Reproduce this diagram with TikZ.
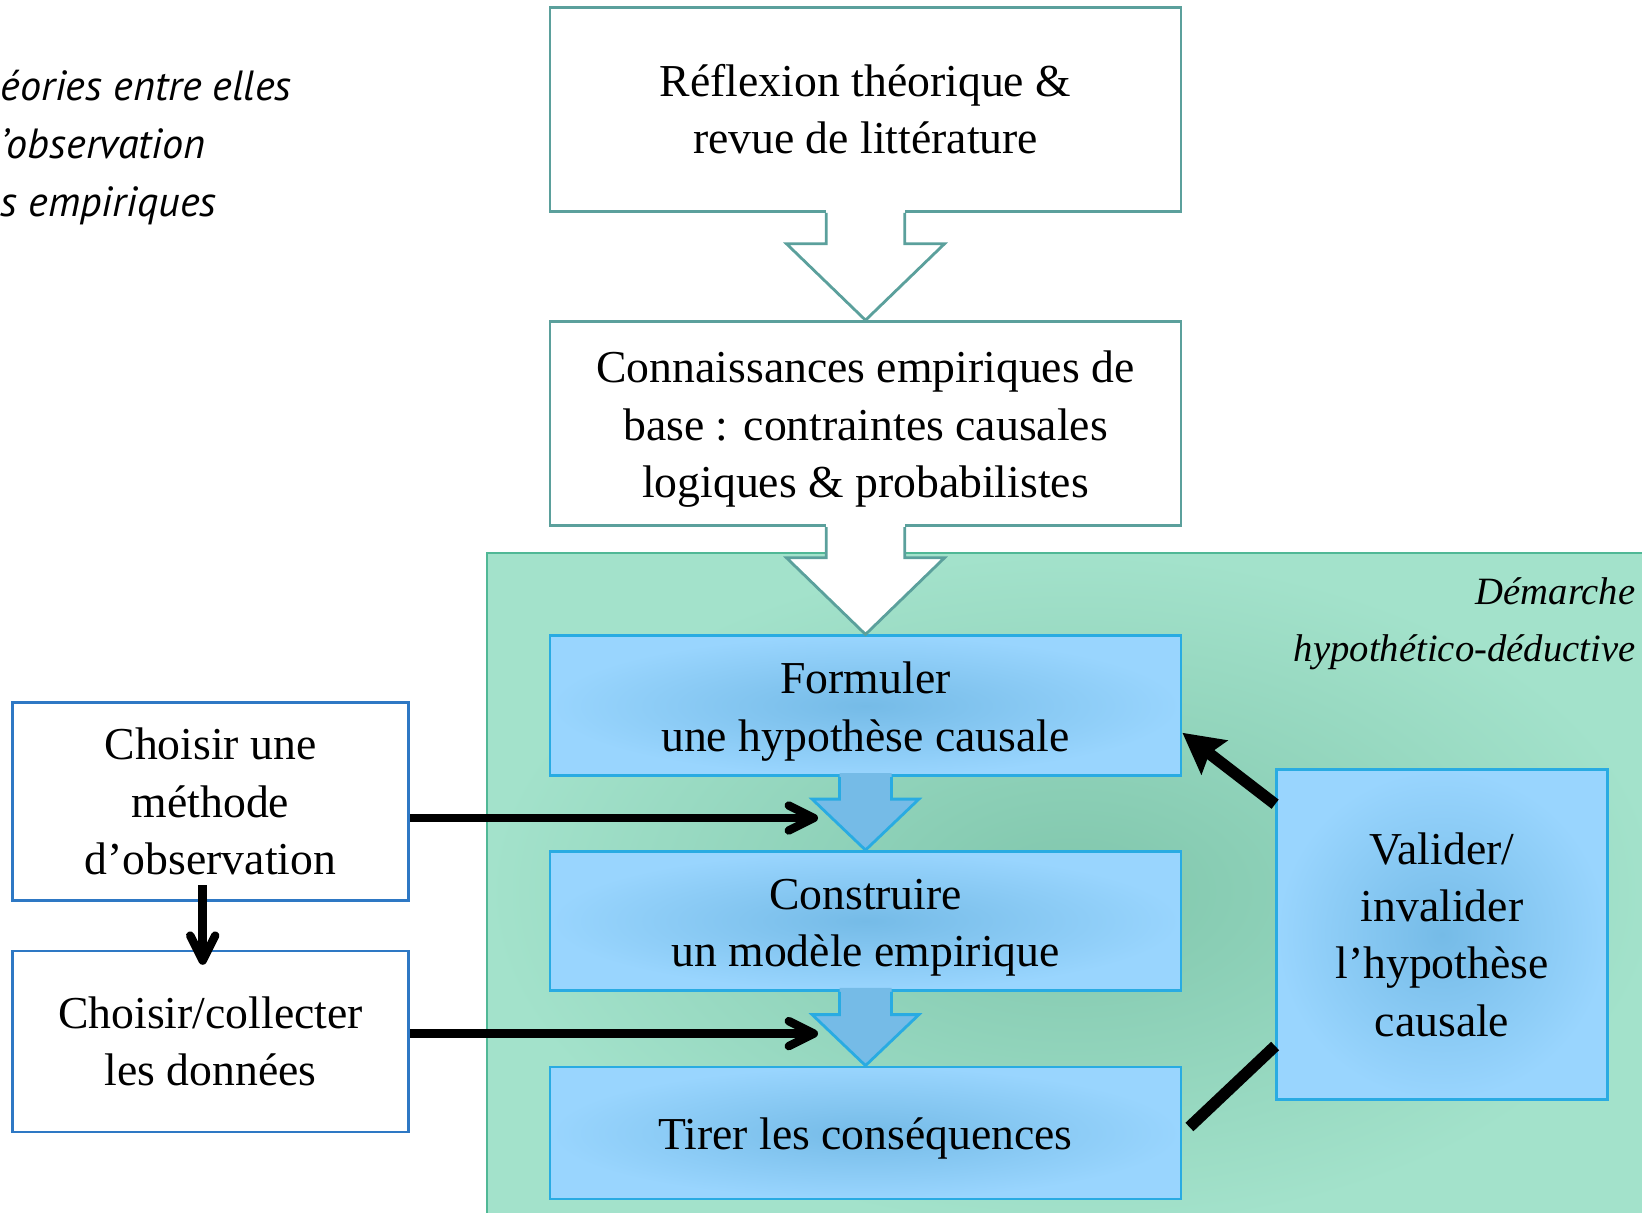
\documentclass[tikz,border=0pt]{standalone}
\usepackage{fontspec}
\setmainfont{Liberation Serif}
\newfontfamily\sidefont{PT Sans}
\usetikzlibrary{arrows.meta,calc}

\definecolor{tealrule}{RGB}{91,160,156}
\definecolor{mintlight}{RGB}{163,226,203}
\definecolor{mintdark}{RGB}{128,198,172}
\definecolor{mintrule}{RGB}{80,184,150}
\definecolor{skylight}{RGB}{153,213,254}
\definecolor{skydark}{RGB}{117,187,231}
\definecolor{skyrule}{RGB}{41,171,226}
\definecolor{navyrule}{RGB}{46,120,196}

% strut that pushes the text a little lower in its box
\newcommand{\lowstrut}{\rule{0pt}{12.3pt}}

\tikzset{
	boxtext/.style={align=center,font=\fontsize{13}{16.3}\selectfont},
	whitebox/.style={boxtext,draw=tealrule,fill=white,line width=0.8pt,minimum width=63.1mm},
	skybox/.style={boxtext,draw=skyrule,inner color=skydark,outer color=skylight,line width=0.8pt,minimum width=63.1mm},
	navybox/.style={boxtext,draw=navyrule,fill=white,line width=0.8pt,minimum width=39.6mm},
	sidetext/.style={align=left,inner sep=0pt,font=\sidefont\itshape\fontsize{12}{16.5}\selectfont},
	feed/.style={->,line width=2.4pt},
	loop/.style={line width=3.3pt},
}

\begin{document}
\begin{tikzpicture}[x=0.1mm,y=-0.1mm,>={Straight Barb[length=2.5mm,width=2.5mm,round]}]
	
	% Frame
	\useasboundingbox (0,0) rectangle (1642,1212);
	\clip (0,0) rectangle (1642,1212);
	
	% Green zone of the hypothetico-deductive part
	\shade[inner color=mintdark,outer color=mintlight] (487,553) rectangle (1660,1230);
	\draw[mintrule,line width=0.7pt] (487,1230) -- (487,553) -- (1660,553);
	
	% Clipped text on the left
	\node[sidetext,anchor=west] (side) at (0,148) {éories entre elles\\’observation\\s empiriques};
	
	% Boxes
	\node[whitebox,minimum height=20.4mm] (refl) at (865.5,109.4) {Réflexion théorique \&\\revue de littérature};
	\node[whitebox,minimum height=20.4mm] (conn) at (865.5,423.6) {\lowstrut Connaissances empiriques de\\base : contraintes causales\\logiques \& probabilistes};
	\node[skybox,minimum height=14mm] (form) at (865.5,705.8) {\lowstrut Formuler\\une hypothèse causale};
	\node[skybox,minimum height=13.9mm] (constr) at (865.5,921) {\lowstrut Construire\\un modèle empirique};
	\node[skybox,minimum height=13.2mm] (tirer) at (865.5,1133) {\lowstrut Tirer les conséquences};
	\node[skybox,minimum width=33.1mm,minimum height=33mm] (valid) at (1442,934.6) {Valider/\\invalider\\l’hypothèse\\causale};
	\node[navybox,minimum height=19.8mm] (obs) at (210.5,801.6) {Choisir une\\méthode\\d’observation};
	\node[navybox,minimum height=18.1mm] (data) at (210.5,1041.5) {Choisir/collecter\\les données};
	
	% Label of the zone
	\node[align=right,inner sep=0pt,anchor=east,font=\itshape\fontsize{11}{16.2}\selectfont] (zone) at (1636,624) {Démarche\\hypothético-déductive};
	
	% Block arrow between two boxes
	\newcommand{\blockarrow}[7]{% from, to, stem half-width, head half-width, head length, fill, rule
		\fill[#6] ($(#1.south)+(-#3,-4)$) -- ($(#2.north)+(-#3,-#5)$) -- ($(#2.north)+(-#4,-#5)$) -- (#2.north)
		-- ($(#2.north)+(#4,-#5)$) -- ($(#2.north)+(#3,-#5)$) -- ($(#1.south)+(#3,-4)$) -- cycle;
		\draw[#7,line width=0.8pt,line join=miter] ($(#1.south)+(-#3,0)$) -- ($(#2.north)+(-#3,-#5)$) -- ($(#2.north)+(-#4,-#5)$) -- (#2.north)
		-- ($(#2.north)+(#4,-#5)$) -- ($(#2.north)+(#3,-#5)$) -- ($(#1.south)+(#3,0)$);
	}
	
	\blockarrow{refl}{conn}{39.3}{79}{76.4}{white}{tealrule}
	\blockarrow{conn}{form}{39.3}{79}{76.6}{white}{tealrule}
	\blockarrow{form}{constr}{26}{53.4}{51}{skydark}{skyrule}
	\blockarrow{constr}{tirer}{26}{53.4}{51}{skydark}{skyrule}
	
	% Method and data feed the steps
	\coordinate (m1) at (818,818);
	\coordinate (m2) at (818,1033.6);
	\draw[feed] (obs.east |- m1) -- (m1);
	\draw[feed] (data.east |- m2) -- (m2);
	\draw[feed] ([xshift=-0.78mm,yshift=1.67mm]obs.south) -- ([xshift=-0.78mm,yshift=-1.52mm]data.north);
	
	% Loop back to the hypothesis
	\draw[loop,-{Stealth[length=4mm,width=4.2mm,inset=0.6mm]}] ([yshift=-3.6mm]valid.north west) -- ([yshift=-2.7mm]form.east);
	\draw[loop] ([yshift=5.5mm]valid.south west) -- ([xshift=0.7mm,yshift=0.6mm]tirer.east);
	
\end{tikzpicture}
\end{document}
